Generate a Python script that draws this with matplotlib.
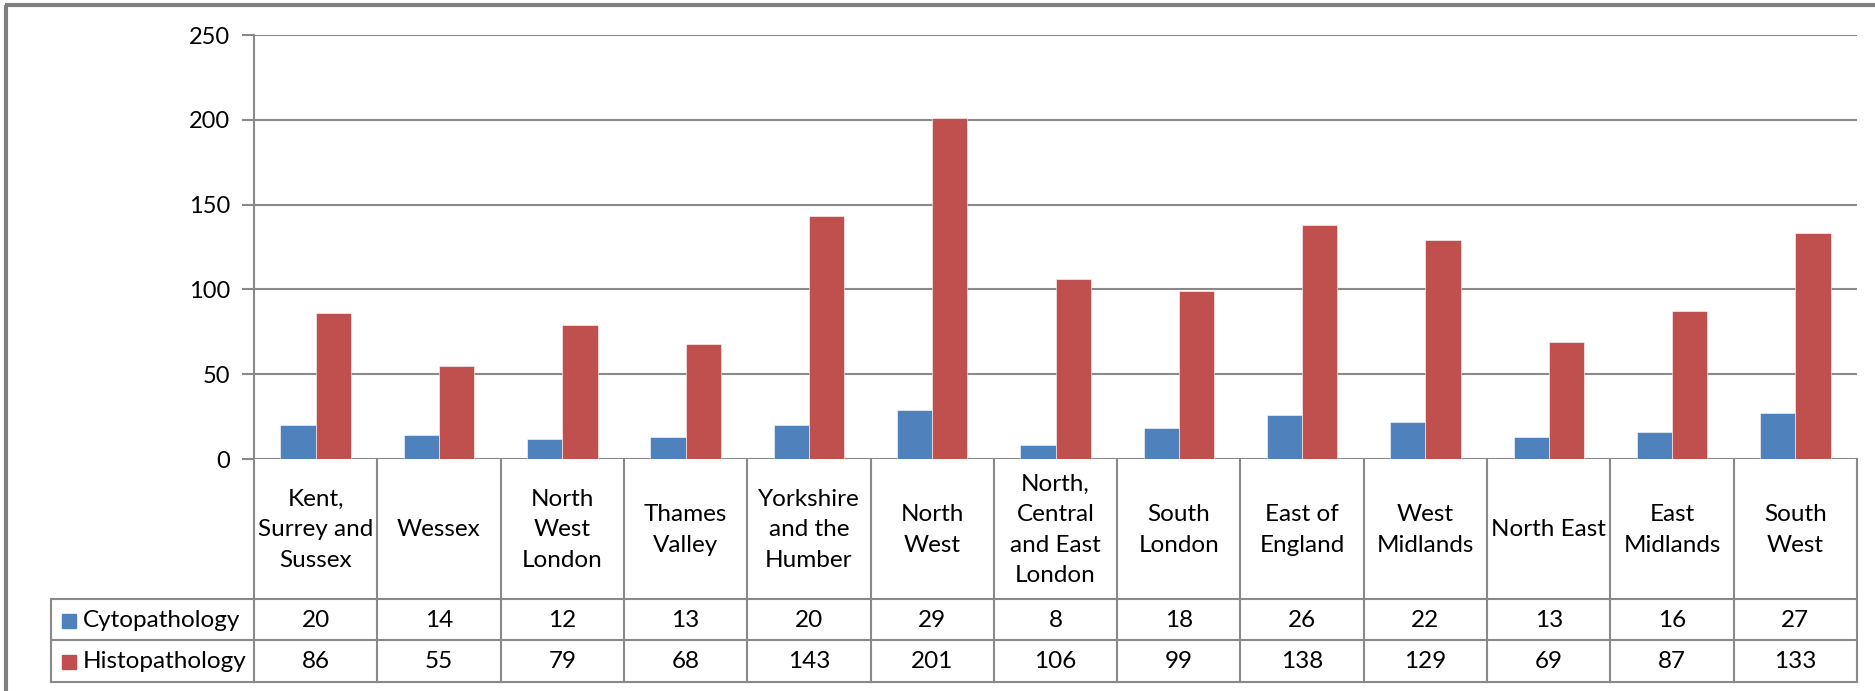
import matplotlib
matplotlib.use("Agg")
import matplotlib.pyplot as plt
from matplotlib.transforms import blended_transform_factory
import numpy as np

plt.rcParams['font.family'] = ['Lato', 'DejaVu Sans']

categories = ["Kent,\nSurrey and\nSussex", "Wessex", "North\nWest\nLondon", "Thames\nValley",
              "Yorkshire\nand the\nHumber", "North\nWest", "North,\nCentral\nand East\nLondon",
              "South\nLondon", "East of\nEngland", "West\nMidlands", "North East",
              "East\nMidlands", "South\nWest"]
series_names = ["Cytopathology", "Histopathology"]
cyto = [20, 14, 12, 13, 20, 29, 8, 18, 26, 22, 13, 16, 27]
histo = [86, 55, 79, 68, 143, 201, 106, 99, 138, 129, 69, 87, 133]
yticks = [0, 50, 100, 150, 200, 250]

colors = ["#4F81BD", "#C0504D"]
grid_c = "#898989"
W, H = 1875, 691
fig = plt.figure(figsize=(W / 100, H / 100), dpi=100)
fs = 17.5

# main bar axes
ax_l, ax_r, ax_t, ax_b = 254, 1857, 35, 459
ax = fig.add_axes([ax_l / W, 1 - ax_b / H, (ax_r - ax_l) / W, (ax_b - ax_t) / H])
n = len(categories)
x = np.arange(n)
bw = 1 / 3.5
ax.bar(x - bw / 2, cyto, width=bw, color=colors[0], edgecolor="white", linewidth=0.4, zorder=3)
ax.bar(x + bw / 2, histo, width=bw, color=colors[1], edgecolor="white", linewidth=0.4, zorder=3)
ax.set_xlim(-0.5, n - 0.5)
ax.set_ylim(0, 250)
ax.set_yticks(yticks)
ax.set_yticklabels([str(v) for v in yticks], fontsize=17)
ax.tick_params(axis='y', length=9, width=1.5, color=grid_c, pad=8)
ax.set_xticks([])
ax.grid(axis='y', color=grid_c, linewidth=1.5, zorder=0)
for s in ['top', 'right', 'bottom']:
    ax.spines[s].set_visible(False)
ax.spines['left'].set_color(grid_c)
ax.spines['left'].set_linewidth(1.5)

# overlay axes for table and frame (pixel coords)
tax = fig.add_axes([0, 0, 1, 1], zorder=5)
tax.set_xlim(0, W)
tax.set_ylim(H, 0)
tax.axis('off')
tr = blended_transform_factory(ax.transData, tax.transData)

lc = grid_c
lw = 1.5
row_cat_bot = 599
row1_bot = 640
row2_bot = 682
left_col = 51

# outer frame (left & top visible)
tax.plot([6, 6], [5, H + 5], color="#7f7f7f", lw=3, solid_capstyle='butt')
tax.plot([5, W + 5], [5, 5], color="#7f7f7f", lw=3, solid_capstyle='butt')

# vertical category lines
for i in range(n + 1):
    tax.plot([i - 0.5, i - 0.5], [ax_b, row2_bot], color=lc, lw=lw, transform=tr)
# left column lines
tax.plot([left_col, left_col], [row_cat_bot, row2_bot], color=lc, lw=lw)
for yy in [row_cat_bot, row1_bot, row2_bot]:
    tax.plot([left_col, ax_r], [yy, yy], color=lc, lw=lw)

# category labels
for i, c in enumerate(categories):
    tax.text(i, (ax_b + row_cat_bot) / 2 + 1, c, transform=tr, ha='center', va='center',
             fontsize=fs, linespacing=1.55)
# values
for vals, (y0, y1) in [(cyto, (row_cat_bot, row1_bot)), (histo, (row1_bot, row2_bot))]:
    for i, v in enumerate(vals):
        tax.text(i, (y0 + y1) / 2 + 1, str(v), transform=tr, ha='center', va='center', fontsize=fs)

# legend keys + row labels
for name, col, (y0, y1) in [(series_names[0], colors[0], (row_cat_bot, row1_bot)),
                            (series_names[1], colors[1], (row1_bot, row2_bot))]:
    yc = (y0 + y1) / 2
    tax.add_patch(plt.Rectangle((62, yc - 6), 14, 14, color=col))
    tax.text(83, yc + 1, name, ha='left', va='center', fontsize=fs)

fig.savefig("out.png", dpi=100, facecolor="white")
